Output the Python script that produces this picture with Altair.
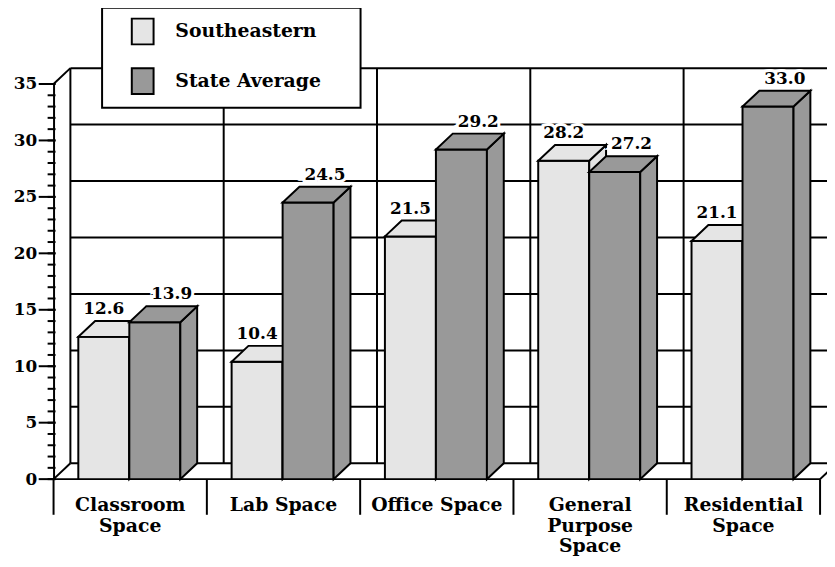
import altair as alt
import pandas as pd

# ---------------- data ----------------
categories = ["Classroom Space", "Lab Space", "Office Space",
              "General Purpose Space", "Residential Space"]
category_labels = ["Classroom\nSpace", "Lab Space", "Office Space",
                   "General\nPurpose\nSpace", "Residential\nSpace"]
series_names = ["Southeastern", "State Average"]
southeastern = [12.6, 10.4, 21.5, 28.2, 21.1]
state_average = [13.9, 24.5, 29.2, 27.2, 33.0]
y_major_ticks = [0, 5, 10, 15, 20, 25, 30, 35]
y_minor_ticks = list(range(0, 36))
series_colors = ["#e5e5e5", "#999999"]

# ---------------- layout constants ----------------
PLOT_W = 774
PLOT_H = 399
N = len(categories)
Y_MAX = 35
PX_X = PLOT_W / N          # pixels per category unit
PX_Y = PLOT_H / Y_MAX      # pixels per value unit
DX = 17 / PX_X             # 3-D depth (x) in category units
DY = 16 / PX_Y             # 3-D depth (y) in value units
BAR_START = 25 / PX_X
BAR_W = 51.5 / PX_X
FONT = "DejaVu Serif"

xscale = alt.Scale(domain=[0, N], nice=False, zero=False)
yscale = alt.Scale(domain=[0, Y_MAX], nice=False, zero=False)
yaxis = alt.Axis(values=y_major_ticks, ticks=False, grid=False, title=None,
                 labelFont=FONT, labelFontWeight="bold", labelFontSize=17,
                 labelColor="black", labelPadding=17,
                 domainColor="black", domainWidth=2)


def X(f):
    return alt.X(f, type="quantitative", scale=xscale, axis=None, stack=None)


def Y(f):
    return alt.Y(f, type="quantitative", scale=yscale, axis=yaxis, stack=None)


legend = alt.Legend(
    title=" ", titleOrient="right", titlePadding=30,
    orient="none", legendX=49, legendY=-77, padding=10,
    fillColor="white", strokeColor="black",
    symbolType="M-0.846,-1H0.846V1H-0.846Z", symbolSize=676,
    symbolStrokeColor="black", symbolStrokeWidth=2, symbolOpacity=1,
    symbolOffset=17, labelOffset=19,
    labelFont=FONT, labelFontWeight="bold", labelFontSize=19,
    labelColor="black", rowPadding=16,
)
color = alt.Color("series:N",
                  scale=alt.Scale(domain=series_names, range=series_colors),
                  legend=legend)

# ---------------- derived tables ----------------
bar_rows, top_rows, side_rows, label_rows = [], [], [], []
for i, cat in enumerate(categories):
    for s, (name, vals) in enumerate(zip(series_names, [southeastern, state_average])):
        v = vals[i]
        xl = i + BAR_START + s * BAR_W
        xr = xl + BAR_W
        bid = f"{i}-{s}"
        bar_rows.append(dict(bar=bid, series=name, value=v, xl=xl, xr=xr, base=0))
        top_rows += [dict(bar=bid, series=name, y=v, xa=xl, xb=xr),
                     dict(bar=bid, series=name, y=v + DY, xa=xl + DX, xb=xr + DX)]
        side_rows += [dict(bar=bid, series=name, x=xr, y=v, y2=0),
                      dict(bar=bid, series=name, x=xr + DX, y=v + DY, y2=DY)]
        label_rows.append(dict(series=name, value=v,
                               lx=(xl + xr) / 2 + (DX if s == 1 else 0)))

bars = pd.DataFrame(bar_rows)
tops = pd.DataFrame(top_rows)
sides = pd.DataFrame(side_rows)
labels = pd.DataFrame(label_rows)

hgrid = pd.DataFrame({"y": [t + DY for t in y_major_ticks], "x": DX, "x2": N + DX})
vgrid = pd.DataFrame({"x": [i + DX for i in range(N + 1)], "y": DY, "y2": Y_MAX + DY})
edges = pd.DataFrame({
    "x": [0, 0, N, 0], "y": [0, Y_MAX, 0, 0],
    "x2": [DX, DX, N + DX, N], "y2": [DY, Y_MAX + DY, DY, 0],
})
dividers = pd.DataFrame({"x": list(range(N + 1)), "y": 0})
major = pd.DataFrame({"y": y_major_ticks})
minor = pd.DataFrame({"y": y_minor_ticks})
cats = pd.DataFrame({"x": [i + 0.5 for i in range(N)], "label": category_labels})

line = dict(color="black", strokeWidth=2)

layers = [
    alt.Chart(hgrid).mark_rule(**line).encode(x=X("x"), x2="x2", y=Y("y")),
    alt.Chart(vgrid).mark_rule(**line).encode(x=X("x"), y=Y("y"), y2="y2"),
    alt.Chart(edges).mark_rule(**line).encode(x=X("x"), y=Y("y"), x2="x2", y2="y2"),
    alt.Chart(dividers).mark_rule(**line).encode(x=X("x"), y=Y("y"), y2=alt.value(PLOT_H + 36)),
    alt.Chart(major).mark_rule(**line).encode(y=Y("y"), x=alt.value(-15), x2=alt.value(2)),
    alt.Chart(minor).mark_rule(**line).encode(y=Y("y"), x=alt.value(-6), x2=alt.value(2)),
]

face = dict(stroke="black", strokeWidth=2, opacity=1, strokeJoin="miter")
for name in series_names:
    b = bars[bars.series == name]
    t = tops[tops.series == name]
    sd = sides[sides.series == name]
    layers += [
        alt.Chart(b).mark_rect(**face).encode(x=X("xl"), x2="xr", y=Y("value"), y2="base", color=color),
        alt.Chart(sd).mark_area(**face).encode(x=X("x"), y=Y("y"), y2="y2", detail="bar:N", color=color),
        alt.Chart(t).mark_area(orient="horizontal", **face).encode(
            y=Y("y"), x=X("xa"), x2="xb", detail="bar:N", color=color),
    ]

txt = dict(font=FONT, fontWeight="bold", fontSize=17, align="center",
           baseline="alphabetic", dy=-23)
layers += [
    alt.Chart(labels).mark_text(stroke="white", strokeWidth=6, fill="white", **txt).encode(
        x=X("lx"), y=Y("value"), text=alt.Text("value:Q", format=".1f")),
    alt.Chart(labels).mark_text(fill="black", **txt).encode(
        x=X("lx"), y=Y("value"), text=alt.Text("value:Q", format=".1f")),
    alt.Chart(cats).mark_text(font=FONT, fontWeight="bold", fontSize=19, align="center",
                              baseline="alphabetic", lineBreak="\n", lineHeight=21,
                              fill="black").encode(
        x=X("x"), y=alt.value(431), text="label:N"),
]

chart = alt.layer(*layers).properties(
    width=PLOT_W, height=PLOT_H,
    padding={"left": 46, "top": 74, "right": 7, "bottom": 86},
    autosize=alt.AutoSizeParams(type="none"),
    background="white",
).configure_view(strokeWidth=0).configure_legend(strokeWidth=2)

chart.save("out.html", embed_options={"renderer": "svg", "actions": False})
